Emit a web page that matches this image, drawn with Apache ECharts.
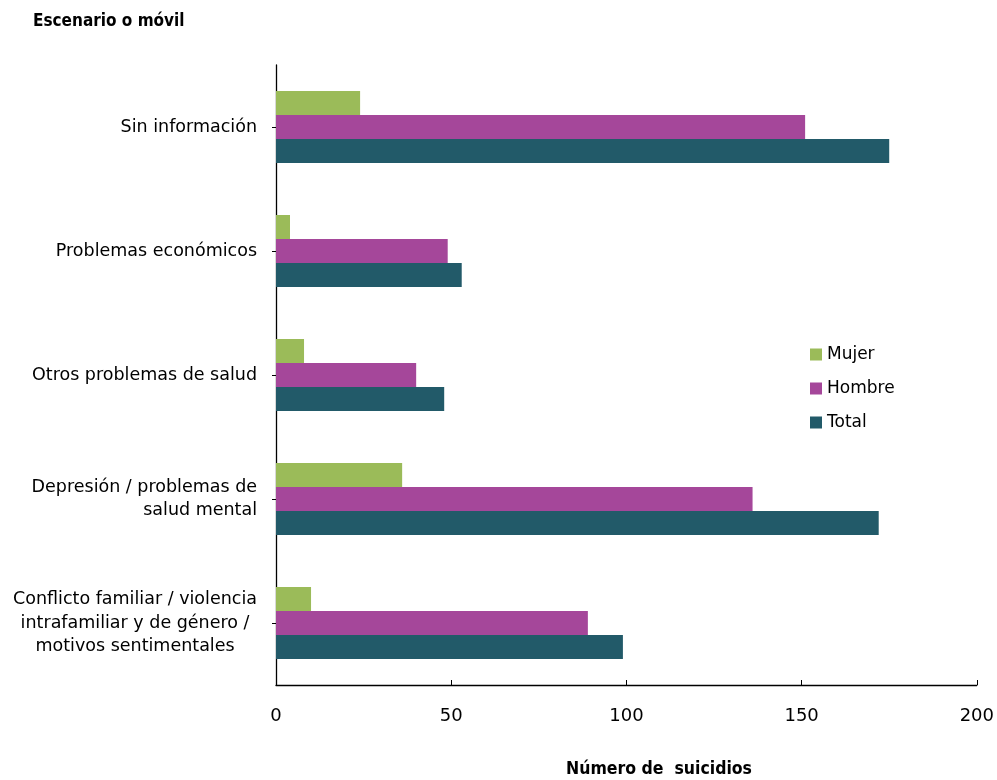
<!DOCTYPE html>
<html><head><meta charset="utf-8">
<script src="https://cdn.jsdelivr.net/npm/echarts@6/dist/echarts.min.js"></script>
<style>html,body{margin:0;padding:0;background:#fff}#c{width:997px;height:780px}</style>
</head><body><div id="c"></div>
<script>
const categories = ["Sin información","Problemas económicos","Otros problemas de salud","Depresión / problemas de\nsalud mental","Conflicto familiar / violencia\nintrafamiliar y de género /\nmotivos sentimentales"];
const mujer = [24, 4, 8, 36, 10];
const hombre = [151, 49, 40, 136, 89];
const total = [175, 53, 48, 172, 99];
const xTicks = [0, 50, 100, 150, 200];
const FONT = "'DejaVu Sans',sans-serif";
const BFONT = "'DejaVu Sans Condensed','DejaVu Sans',sans-serif";
const labStyle = {fontSize:17.5, color:'#000', lineHeight:23.5, fontFamily:FONT};
const chart = echarts.init(document.getElementById('c'), null, {renderer:'canvas'});
chart.setOption({
  animation:false,
  backgroundColor:'#fff',
  textStyle:{fontFamily:FONT},
  graphic:[
    {type:'text', left:33, top:13, style:{text:'Escenario o móvil', font:"bold 17px "+BFONT, fill:'#000'}},
    {type:'text', left:566, top:760, style:{text:'Número de  suicidios', font:"bold 17.5px "+BFONT, fill:'#000'}}
  ],
  legend:{
    orient:'vertical', left:805, top:341, itemGap:17, itemWidth:12, itemHeight:12,
    icon:'rect', textStyle:{fontSize:17, color:'#000', fontFamily:FONT},
    data:['Mujer','Hombre','Total']
  },
  grid:{left:276, right:20, top:65, bottom:95, containLabel:false},
  xAxis:{
    type:'value', min:0, max:200, interval:50,
    axisLine:{show:true, lineStyle:{color:'#000', width:1.3}},
    axisTick:{show:true, inside:true, length:5, lineStyle:{color:'#000'}},
    axisLabel:{fontSize:18, color:'#000', margin:22, fontFamily:FONT,
      formatter:v=>xTicks.includes(v)?String(v):''},
    splitLine:{show:false}
  },
  yAxis:{
    type:'category', inverse:true, data:categories,
    axisLine:{show:true, lineStyle:{color:'#000', width:1.3}},
    axisTick:{show:true, alignWithLabel:true, length:4, lineStyle:{color:'#000'}},
    axisLabel:{fontSize:17.5, color:'#000', margin:19, lineHeight:23.5, align:'right', fontFamily:FONT,
      formatter:(v, i)=> i === 4 ? v.split('\n').map(s=>'{c|'+s+'}').join('\n') : v,
      rich:{c:Object.assign({align:'center'}, labStyle)}
    }
  },
  series:[
    {name:'Mujer', type:'bar', data:mujer, barWidth:24, barGap:'0%', itemStyle:{color:'#9BBB59'}},
    {name:'Hombre', type:'bar', data:hombre, barWidth:24, barGap:'0%', itemStyle:{color:'#A5479A'}},
    {name:'Total', type:'bar', data:total, barWidth:24, barGap:'0%', itemStyle:{color:'#225A69'}}
  ]
});
</script></body></html>
